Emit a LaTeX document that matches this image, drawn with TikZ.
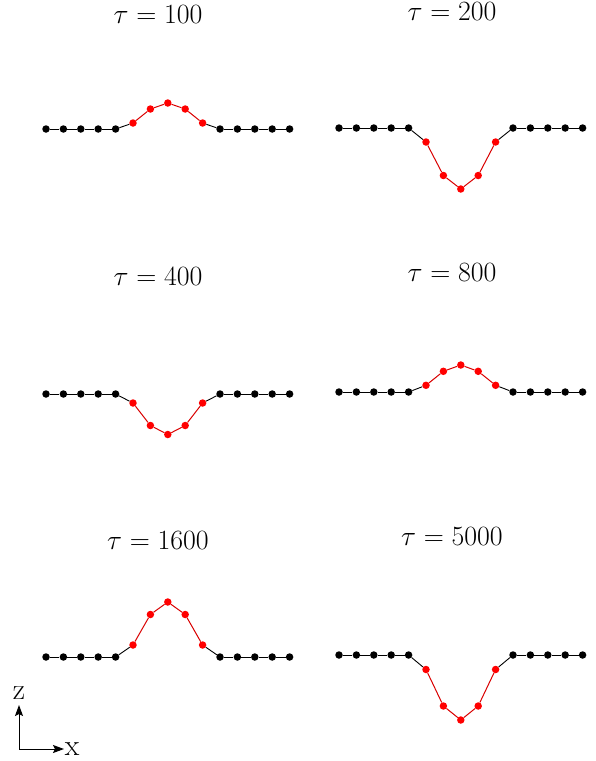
\documentclass[tikz,border=0pt]{standalone}
\usetikzlibrary{arrows.meta}

% one chain of 15 beads: #1 name prefix, #2 left x, #3 base y, #4 #5 #6 lift of the red beads
\newcommand{\beadchain}[6]{%
  \foreach \i in {0,...,4,10,11,12,13,14} {
    \node[blackbead] (#1\i) at ({#2+\i*17.4},#3) {};
  }
  \foreach \i/\dz in {5/#4,6/#5,7/#6,8/#5,9/#4} {
    \node[redbead] (#1\i) at ({#2+\i*17.4},{#3-\dz}) {};
  }
  \foreach \i in {0,...,4,9,10,11,12,13} {
    \pgfmathtruncatemacro\j{\i+1}
    \draw[blackbond] (#1\i) -- (#1\j);
  }
  \foreach \i in {5,...,8} {
    \pgfmathtruncatemacro\j{\i+1}
    \draw[redbond] (#1\i) -- (#1\j);
  }
}

\tikzset{
  blackbead/.style={circle, fill=black, inner sep=0pt, minimum size=7.5pt},
  redbead/.style={circle, fill=red, inner sep=0pt, minimum size=7.5pt},
  blackbond/.style={black, line width=0.9pt},
  redbond/.style={red!85!black, line width=1pt},
  title/.style={font=\Huge, scale=1.12},
  axislabel/.style={font=\Huge, scale=1.2, inner sep=0pt}
}

\begin{document}
\begin{tikzpicture}[x=1pt,y=-1pt]
\useasboundingbox (0,0) rectangle (596,761);

% titles
\node[title] (t100) at (158,15) {$\tau = 100$};
\node[title] (t200) at (452,12) {$\tau = 200$};
\node[title] (t400) at (158,277) {$\tau = 400$};
\node[title] (t800) at (452,273) {$\tau = 800$};
\node[title] (t1600) at (158,541) {$\tau = 1600$};
\node[title] (t5000) at (452,537) {$\tau = 5000$};

% chains
\beadchain{a}{46}{129}{6}{20}{26}
\beadchain{b}{339}{128}{-14}{-47.5}{-61}
\beadchain{c}{46}{394}{-9}{-31.5}{-40.5}
\beadchain{d}{339}{392}{6.7}{20.7}{27}
\beadchain{e}{46}{657}{12}{42.5}{55}
\beadchain{f}{339}{655}{-14.5}{-51}{-65}

% axes
\coordinate (origin) at (19,749);
\coordinate (ztip) at (19,705);
\coordinate (xtip) at (64,749);
\node[axislabel] (zlabel) at (19,693) {z};
\node[axislabel] (xlabel) at (72,749) {x};
\draw[line width=1pt, -{Stealth[length=11pt,width=8pt,inset=2pt]}] (origin) -- (ztip);
\draw[line width=1pt, -{Stealth[length=11pt,width=8pt,inset=2pt]}] (origin) -- (xtip);

\end{tikzpicture}
\end{document}
